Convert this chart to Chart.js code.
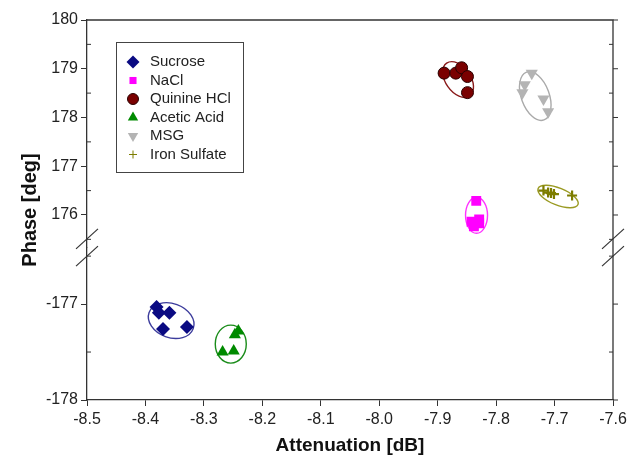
<!DOCTYPE html>
<html>
<head>
<meta charset="utf-8">
<script src="https://cdn.jsdelivr.net/npm/chart.js@4.4.0/dist/chart.umd.min.js"></script>
<style>
html, body { margin: 0; padding: 0; background: #fff; }
#wrap { width: 631px; height: 460px; }
</style>
</head>
<body>
<div id="wrap"><canvas id="myChart"></canvas></div>
<script>
// Series names (legend order)
var seriesNames = ['Sucrose', 'NaCl', 'Quinine HCl', 'Acetic Acid', 'MSG', 'Iron Sulfate'];

// Measured points: attenuation [dB] / phase [deg]
var sucroseX = [-8.381, -8.377, -8.359, -8.370, -8.329];
var sucroseY = [-177.03, -177.09, -177.09, -177.26, -177.24];
var naclX = [-7.834, -7.842, -7.829, -7.829, -7.838];
var naclY = [176.29, 175.86, 175.91, 175.83, 175.77];
var quinineX = [-7.889, -7.869, -7.859, -7.849, -7.849];
var quinineY = [178.91, 178.91, 179.02, 178.84, 178.51];
var aceticX = [-8.241, -8.247, -8.268, -8.249];
var aceticY = [-177.28, -177.32, -177.50, -177.49];
var msgX = [-7.739, -7.751, -7.755, -7.719, -7.711];
var msgY = [178.91, 178.67, 178.51, 178.38, 178.12];
var ironX = [-7.719, -7.711, -7.706, -7.701, -7.670];
var ironY = [176.50, 176.46, 176.45, 176.43, 176.40];

// Cluster ellipse centres (data units)
var ellipseCX = [-8.356, -7.8335, -7.865, -8.254, -7.733, -7.694];
var ellipseCY = [-177.172, 175.994, 178.779, -177.417, 178.441, 176.379];

// Tick labels
var xTicks = [-8.5, -8.4, -8.3, -8.2, -8.1, -8.0, -7.9, -7.8, -7.7, -7.6];
var yHighTicks = [176, 177, 178, 179, 180];
var yLowTicks = [-178, -177];
var yHighMinor = [175.5, 176.5, 177.5, 178.5, 179.5];
var yLowMinor = [-177.5, -176.5];

// which y axis each series lives on
var axisOf = ['yLow', 'yHigh', 'yHigh', 'yLow', 'yHigh', 'yHigh'];

var colors = ['#0a0a82', '#ff00ff', '#7a0000', '#008a00', '#b4b4b4', '#7d7d00'];
var pointStyles = ['rectRot', 'rect', 'circle', 'triangle', 'triangle', 'cross'];
var rotations = [0, 0, 0, 0, 180, 0];
var radii = [7, 7, 6, 7, 7, 5];
var ellipseShape = [
    { a: 23.5, b: 17, angle: 20, color: '#3c3c9c' },
    { a: 11, b: 18, angle: 0, color: '#ff33ff' },
    { a: 20, b: 12.5, angle: 55, color: '#8a1a1a' },
    { a: 15.5, b: 19, angle: 0, color: '#1a8c1a' },
    { a: 25.5, b: 14, angle: 70, color: '#aaaaaa' },
    { a: 21.5, b: 8.5, angle: 22, color: '#9a9a22' }
];

function pts(xs, ys) {
    return xs.map(function (v, i) { return { x: v, y: ys[i] }; });
}
var allX = [sucroseX, naclX, quinineX, aceticX, msgX, ironX];
var allY = [sucroseY, naclY, quinineY, aceticY, msgY, ironY];

var datasets = seriesNames.map(function (name, i) {
    return {
        label: name,
        data: pts(allX[i], allY[i]),
        yAxisID: axisOf[i],
        pointStyle: pointStyles[i],
        rotation: rotations[i],
        pointRadius: radii[i],
        pointHoverRadius: radii[i],
        backgroundColor: colors[i],
        borderColor: i === 2 ? '#2a0000' : colors[i],
        borderWidth: i === 5 ? 2.2 : (i === 2 ? 1 : 0),
        showLine: false
    };
});

var AXIS = '#333333';
var FONT = '"Liberation Sans", Arial, sans-serif';

function drawBreak(ctx, x, y) {
    ctx.beginPath();
    ctx.moveTo(x - 11, y + 10);
    ctx.lineTo(x + 11, y - 10);
    ctx.stroke();
}

var sketchPlugin = {
    id: 'sketch',
    beforeDatasetsDraw: function (chart) {
        var ctx = chart.ctx, sx = chart.scales.x;
        ctx.save();
        ellipseShape.forEach(function (e, i) {
            var sy = chart.scales[axisOf[i]];
            var px = sx.getPixelForValue(ellipseCX[i]);
            var py = sy.getPixelForValue(ellipseCY[i]);
            ctx.beginPath();
            ctx.ellipse(px, py, e.a, e.b, e.angle * Math.PI / 180, 0, 2 * Math.PI);
            ctx.strokeStyle = e.color;
            ctx.lineWidth = 1.4;
            ctx.stroke();
        });
        ctx.restore();
    },
    afterDraw: function (chart) {
        var ctx = chart.ctx, a = chart.chartArea;
        var hi = chart.scales.yHigh, lo = chart.scales.yLow;
        ctx.save();
        ctx.strokeStyle = AXIS;
        ctx.lineWidth = 1.3;
        // top and right frame
        ctx.beginPath();
        ctx.moveTo(a.left, a.top);
        ctx.lineTo(a.right, a.top);
        ctx.lineTo(a.right, a.bottom);
        ctx.stroke();
        // minor ticks (inside) and right-side ticks
        ctx.lineWidth = 1;
        function tick(x, y, len) {
            ctx.beginPath();
            ctx.moveTo(x, y);
            ctx.lineTo(x + len, y);
            ctx.stroke();
        }
        yHighMinor.forEach(function (v) { tick(a.left, hi.getPixelForValue(v), 4); tick(a.right, hi.getPixelForValue(v), -4); });
        yLowMinor.forEach(function (v) { tick(a.left, lo.getPixelForValue(v), 4); tick(a.right, lo.getPixelForValue(v), -4); });
        yHighTicks.forEach(function (v) { tick(a.right, hi.getPixelForValue(v), 5); });
        yLowTicks.forEach(function (v) { tick(a.right, lo.getPixelForValue(v), 5); });
        // axis breaks
        ctx.lineWidth = 1.2;
        var yb1 = hi.getPixelForValue(175.51), yb2 = lo.getPixelForValue(-176.5);
        [a.left, a.right].forEach(function (x) { drawBreak(ctx, x, yb1); drawBreak(ctx, x, yb2); });
        // y title
        ctx.fillStyle = '#111';
        ctx.font = 'bold 20px ' + FONT;
        ctx.textAlign = 'center';
        ctx.textBaseline = 'middle';
        ctx.translate(30, (a.top + a.bottom) / 2);
        ctx.rotate(-Math.PI / 2);
        ctx.fillText('Phase [deg]', 0, 0);
        ctx.restore();

        // legend box
        ctx.save();
        ctx.strokeStyle = '#444';
        ctx.lineWidth = 1;
        ctx.strokeRect(116.5, 42.5, 127, 130);
        ctx.font = '15px ' + FONT;
        ctx.textAlign = 'left';
        ctx.textBaseline = 'middle';
        var legR = [6.5, 5, 5.5, 6, 6, 4];
        seriesNames.forEach(function (name, i) {
            var y = 62 + i * 18.5;
            ctx.fillStyle = colors[i];
            ctx.strokeStyle = i === 2 ? '#2a0000' : colors[i];
            Chart.helpers.drawPoint(ctx, {
                pointStyle: pointStyles[i], radius: legR[i], rotation: rotations[i],
                borderWidth: i === 5 ? 2 : (i === 2 ? 1 : 0)
            }, 133, y);
            ctx.fillStyle = '#222';
            ctx.fillText(name, 150, y);
        });
        ctx.restore();
    }
};

var ctx = document.getElementById('myChart').getContext('2d');
var myChart = new Chart(ctx, {
    type: 'scatter',
    data: { datasets: datasets },
    plugins: [sketchPlugin],
    options: {
        responsive: true,
        maintainAspectRatio: false,
        animation: false,
        layout: { padding: { top: 20, right: 18, left: 0, bottom: 0 } },
        plugins: {
            legend: { display: false },
            tooltip: { enabled: false }
        },
        scales: {
            x: {
                type: 'linear',
                min: -8.5,
                max: -7.6,
                afterBuildTicks: function (s) { s.ticks = xTicks.map(function (v) { return { value: v }; }); },
                afterFit: function (s) { s.height = 60; },
                ticks: {
                    font: { family: FONT, size: 16 },
                    color: '#222',
                    padding: 4,
                    maxRotation: 0,
                    callback: function (v) { return Number(v).toFixed(1); }
                },
                grid: { drawOnChartArea: false, tickLength: 6, color: AXIS },
                border: { color: AXIS, width: 1.3 },
                title: {
                    display: true,
                    text: 'Attenuation [dB]',
                    font: { family: FONT, size: 19, weight: 'bold' },
                    color: '#111',
                    padding: { top: 4, bottom: 3 }
                }
            },
            yLow: {
                type: 'linear',
                position: 'left',
                stack: 'phase',
                stackWeight: 152.5,
                min: -178,
                max: -176.41,
                afterBuildTicks: function (s) { s.ticks = yLowTicks.map(function (v) { return { value: v }; }); },
                afterFit: function (s) { s.width = 87; },
                ticks: { font: { family: FONT, size: 16 }, color: '#222', padding: 3 },
                grid: { drawOnChartArea: false, tickLength: 6, color: AXIS },
                border: { color: AXIS, width: 1.3 }
            },
            yHigh: {
                type: 'linear',
                position: 'left',
                stack: 'phase',
                stackWeight: 227.5,
                min: 175.333,
                max: 180,
                afterBuildTicks: function (s) { s.ticks = yHighTicks.map(function (v) { return { value: v }; }); },
                afterFit: function (s) { s.width = 87; },
                ticks: { font: { family: FONT, size: 16 }, color: '#222', padding: 3 },
                grid: { drawOnChartArea: false, tickLength: 6, color: AXIS },
                border: { color: AXIS, width: 1.3 }
            }
        }
    }
});
</script>
</body>
</html>
